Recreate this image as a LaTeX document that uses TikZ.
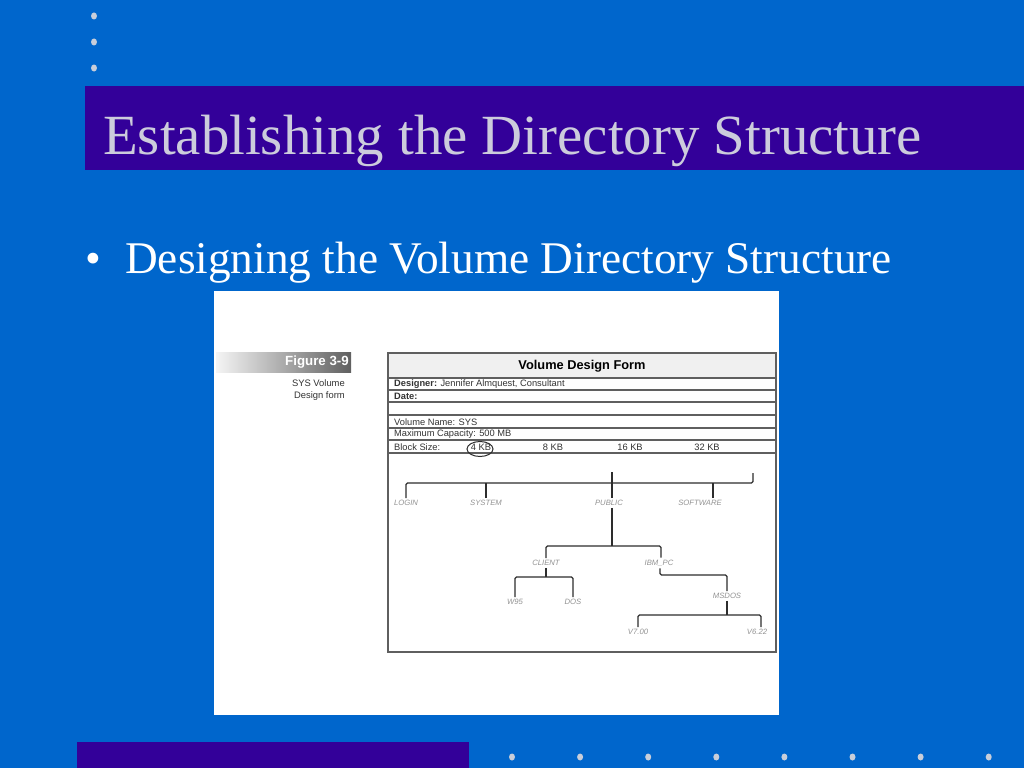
\documentclass[tikz,border=0pt]{standalone}
\usepackage{fontspec}
\setmainfont{Liberation Serif}
\newfontfamily\formfont{Liberation Sans}
\definecolor{slideblue}{RGB}{0,102,204}
\definecolor{barviolet}{RGB}{51,0,153}
\definecolor{titlegray}{RGB}{204,204,220}
\definecolor{dotgray}{RGB}{200,206,218}
\definecolor{inkgray}{RGB}{45,45,45}
\definecolor{rulegray}{RGB}{95,95,95}
\tikzset{
  dot/.style={fill=dotgray},
  formtext/.style={font=\formfont\fontsize{9.3}{10}\selectfont,text=black!80,anchor=west,inner sep=0pt},
  formrule/.style={rulegray,line width=1.4pt},
  dirlabel/.style={font=\formfont\itshape\fontsize{7.7}{8}\selectfont,text=gray!85,inner sep=2pt},
  treeline/.style={inkgray,line width=1.2pt,rounded corners=1.5pt}
}
\begin{document}
\begin{tikzpicture}[x=1pt,y=-1pt]
% slide background and bars
\fill[slideblue] (0,0) rectangle (1024,768);
\useasboundingbox (0,0) rectangle (1024,768);
\fill[barviolet] (85,86) rectangle (1024,170);
\fill[barviolet] (77,742) rectangle (469,768);
\foreach \y in {16,42,68}
  \fill[dot] (94,\y) ellipse (3pt and 3.5pt);
\foreach \i in {0,...,7}
  \fill[dot] (512+68.1*\i,757) ellipse (3pt and 3.5pt);
% title and bullet
\node[anchor=base west,inner sep=0pt,text=titlegray,font=\fontsize{56.8}{66}\selectfont] (title) at (103,154) {Establishing the Directory Structure};
\node[anchor=base west,inner sep=0pt,text=white,font=\fontsize{45}{54}\selectfont] (bullet) at (85,273) {\textbullet};
\node[anchor=base west,inner sep=0pt,text=white,font=\fontsize{45.3}{54}\selectfont] (subtitle) at (125,273) {Designing the Volume Directory Structure};
% figure panel
\fill[white] (214,291) rectangle (779,715);
\shade[left color=gray!8,right color=gray!75!black] (216,352) rectangle (351,372);
\node[anchor=east,inner sep=0pt,text=white,font=\formfont\bfseries\fontsize{13.3}{14}\selectfont] (fignum) at (349,362) {Figure 3-9};
\node[anchor=east,inner sep=0pt,align=right,text=black!80,font=\formfont\fontsize{9.4}{12.5}\selectfont] (caption) at (345,390) {SYS Volume\\Design form};
% volume design form
\fill[gray!12] (388,353) rectangle (776,378);
\draw[formrule] (388,353) rectangle (776,652);
\foreach \y in {378,390,402,415,428,440,453}
  \draw[formrule] (388,\y) -- (776,\y);
\node[inner sep=0pt,font=\formfont\bfseries\fontsize{12.8}{14}\selectfont] (formtitle) at (582,366) {Volume Design Form};
\node[formtext] (designer) at (394,384.5) {\textbf{Designer:} Jennifer Almquest, Consultant};
\node[formtext] (date) at (394,396.5) {\textbf{Date:}};
\node[formtext] (volname) at (394,422) {Volume Name: SYS};
\node[formtext] (capacity) at (394,434.5) {Maximum Capacity: 500 MB};
\node[formtext] (blocksize) at (394,447) {Block Size:};
\node[formtext,anchor=center] (kb4) at (481,447) {4 KB};
\node[formtext,anchor=center] (kb8) at (553,447) {8 KB};
\node[formtext,anchor=center] (kb16) at (630,447) {16 KB};
\node[formtext,anchor=center] (kb32) at (707,447) {32 KB};
\draw[inkgray,line width=1pt] (480,449) ellipse (13pt and 7.5pt);
% directory tree
\node[dirlabel] (login) at (406,503) {LOGIN};
\node[dirlabel] (system) at (486,503) {SYSTEM};
\node[dirlabel] (public) at (609,503) {PUBLIC};
\node[dirlabel] (software) at (700,503) {SOFTWARE};
\node[dirlabel] (client) at (546,563) {CLIENT};
\node[dirlabel] (ibmpc) at (659,563) {IBM\_PC};
\node[dirlabel] (w95) at (515,602) {W95};
\node[dirlabel] (dos) at (573,602) {DOS};
\node[dirlabel] (msdos) at (727,596) {MSDOS};
\node[dirlabel] (v700) at (638,632) {V7.00};
\node[dirlabel] (v622) at (757,632) {V6.22};
\coordinate (root) at (612,472);
\coordinate (rootend) at (753,473);
\coordinate (bar) at (612,483);
\coordinate (cbar) at (612,546);
\coordinate (wbar) at (546,577);
\coordinate (mbar) at (660,575);
\coordinate (vbar) at (727,615);
\draw[treeline] (login.north) -- (login.north |- bar) -- (rootend |- bar) -- (rootend);
\draw[treeline] (system.north) -- (system.north |- bar);
\draw[treeline] ([xshift=13pt]software.north) -- ([xshift=13pt]software.north |- bar);
\draw[treeline] (root) -- ([xshift=3pt]public.north);
\draw[treeline] ([xshift=3pt]public.south) -- ([xshift=3pt]public.south |- cbar);
\draw[treeline] (client.north) -- (client.north |- cbar) -- ([xshift=2pt]ibmpc.north |- cbar) -- ([xshift=2pt]ibmpc.north);
\draw[treeline] (client.south) -- (client.south |- wbar);
\draw[treeline] (w95.north) -- (w95.north |- wbar) -- (dos.north |- wbar) -- (dos.north);
\draw[treeline] ([xshift=1pt]ibmpc.south) -- ([xshift=1pt]ibmpc.south |- mbar) -- (msdos.north |- mbar) -- (msdos.north);
\draw[treeline] (msdos.south) -- (msdos.south |- vbar);
\draw[treeline] (v700.north) -- (v700.north |- vbar) -- ([xshift=4pt]v622.north |- vbar) -- ([xshift=4pt]v622.north);
\end{tikzpicture}
\end{document}
